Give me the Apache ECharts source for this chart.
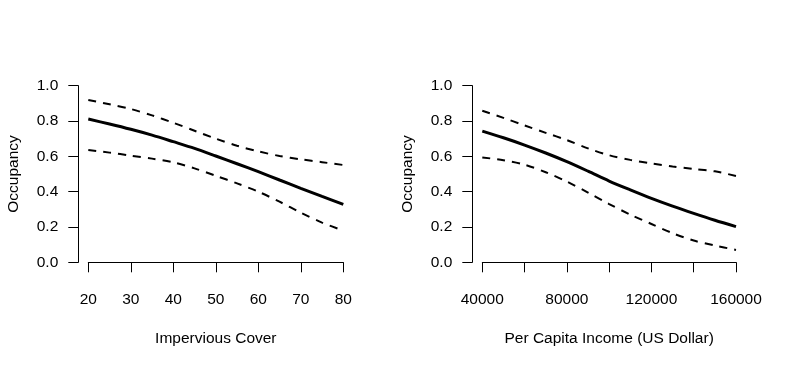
<!DOCTYPE html>
<html>
<head>
<meta charset="utf-8">
<script src="https://cdn.jsdelivr.net/npm/echarts@6/dist/echarts.min.js"></script>
<style>
html,body{margin:0;padding:0;background:#fff;}
#chart{width:787px;height:368px;}
</style>
</head>
<body>
<div id="chart"></div>
<script>
// Left panel: Impervious Cover
const impervious = [20, 25, 30, 35, 40, 45, 50, 55, 60, 65, 70, 75, 80];
const impFit     = [0.811, 0.783, 0.753, 0.720, 0.683, 0.645, 0.602, 0.558, 0.513, 0.466, 0.419, 0.373, 0.328];
const impUpper   = [0.919, 0.895, 0.868, 0.832, 0.790, 0.745, 0.700, 0.660, 0.628, 0.602, 0.583, 0.567, 0.551];
const impLower   = [0.636, 0.621, 0.604, 0.587, 0.566, 0.532, 0.490, 0.447, 0.400, 0.343, 0.281, 0.225, 0.179];

// Right panel: Per Capita Income
const income     = [40000, 50000, 60000, 70000, 80000, 90000, 100000, 110000, 120000, 130000, 140000, 150000, 160000];
const incFit     = [0.743, 0.705, 0.664, 0.619, 0.570, 0.516, 0.460, 0.410, 0.362, 0.318, 0.277, 0.238, 0.202];
const incUpper   = [0.858, 0.818, 0.775, 0.733, 0.692, 0.645, 0.606, 0.580, 0.560, 0.543, 0.528, 0.515, 0.489];
const incLower   = [0.594, 0.578, 0.553, 0.510, 0.457, 0.395, 0.330, 0.270, 0.217, 0.165, 0.123, 0.095, 0.070];

const incomeLabels = [40000, 80000, 120000, 160000];

const FONT = 'Liberation Sans, Arial, sans-serif';
const FS = 15.5;

function pairs(xs, ys) { return xs.map((x, i) => [x, ys[i]]); }

function xAxisCfg(idx, min, max, interval, name, labelSet) {
  return {
    type: 'value', gridIndex: idx, min: min, max: max, interval: interval,
    offset: 7.7,
    name: name, nameLocation: 'middle', nameGap: 61,
    nameTextStyle: { color: '#000', fontSize: FS, fontFamily: FONT },
    axisLine: { show: true, lineStyle: { color: '#000', width: 1 } },
    axisTick: { show: true, length: 10, inside: false, lineStyle: { color: '#000', width: 1 } },
    axisLabel: {
      color: '#000', fontSize: FS, fontFamily: FONT, margin: 22,
      formatter: v => (labelSet && labelSet.indexOf(v) < 0) ? '' : String(v)
    },
    splitLine: { show: false }
  };
}
function yAxisCfg(idx) {
  return {
    type: 'value', gridIndex: idx, min: 0, max: 1, interval: 0.2,
    offset: 10,
    name: 'Occupancy', nameLocation: 'middle', nameGap: 57, nameRotate: 90,
    nameTextStyle: { color: '#000', fontSize: FS, fontFamily: FONT },
    axisLine: { show: true, lineStyle: { color: '#000', width: 1 } },
    axisTick: { show: true, length: 10, lineStyle: { color: '#000', width: 1 } },
    axisLabel: { color: '#000', fontSize: FS, fontFamily: FONT, margin: 20, formatter: v => v.toFixed(1) },
    splitLine: { show: false }
  };
}
function lineSeries(idx, data, dashed) {
  return {
    type: 'line', xAxisIndex: idx, yAxisIndex: idx, data: data,
    showSymbol: false, symbol: 'none', smooth: 0.3, clip: false,
    lineStyle: dashed ? { color: '#000', width: 2, type: [8, 7] } : { color: '#000', width: 3 },
    silent: true
  };
}

const chart = echarts.init(document.getElementById('chart'), null, { renderer: 'canvas' });
chart.setOption({
  animation: false,
  backgroundColor: '#fff',
  grid: [
    { left: 88.3, top: 85.7, width: 255, height: 176.6 },
    { left: 482.3, top: 85.7, width: 253.7, height: 176.6 }
  ],
  xAxis: [
    xAxisCfg(0, 20, 80, 10, 'Impervious Cover', null),
    xAxisCfg(1, 40000, 160000, 20000, 'Per Capita Income (US Dollar)', incomeLabels)
  ],
  yAxis: [yAxisCfg(0), yAxisCfg(1)],
  series: [
    lineSeries(0, pairs(impervious, impFit), false),
    lineSeries(0, pairs(impervious, impUpper), true),
    lineSeries(0, pairs(impervious, impLower), true),
    lineSeries(1, pairs(income, incFit), false),
    lineSeries(1, pairs(income, incUpper), true),
    lineSeries(1, pairs(income, incLower), true)
  ]
});
</script>
</body>
</html>
